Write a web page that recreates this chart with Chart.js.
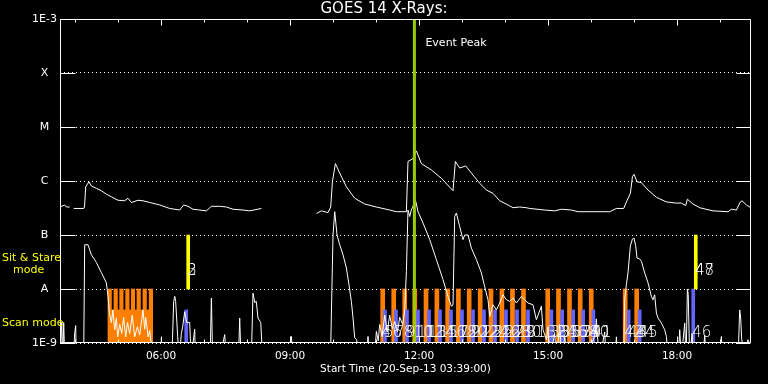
<!DOCTYPE html>
<html>
<head>
<meta charset="utf-8">
<script src="https://cdn.jsdelivr.net/npm/chart.js@4.4.1/dist/chart.umd.min.js"></script>
<style>
  html, body { margin: 0; padding: 0; background: #000; }
  #wrap { width: 768px; height: 384px; position: relative; }
</style>
</head>
<body>
<div id="wrap"><canvas id="c"></canvas></div>
<script>
// === GOES 14 X-Rays, 20-Sep-13 ===
// times in decimal hours UT, flux in W/m^2

const xMin = 3.65, xMax = 19.72;

// 1-8 A channel
const longT = [3.65, 3.759, 3.80, 3.876, 3.92, 3.969, 4.201, 4.22, 4.248, 4.324, 4.380, 4.496, 4.613, 4.729, 4.845,
  4.999, 5.155, 5.231, 5.310, 5.464, 5.580, 5.736, 5.969, 6.201, 6.434, 6.527, 6.627, 6.743, 6.899, 7.055,
  7.171, 7.364, 7.520, 7.673, 7.906, 8.062, 8.334, 8.9,
  9.613, 9.729, 9.883, 9.946, 9.985, 10.055, 10.155, 10.31, 10.503, 10.736, 11.008, 11.317, 11.473, 11.706,
  11.743, 11.859, 11.938, 12.055, 12.287, 12.52, 12.79, 12.845, 12.945, 13.085, 13.218, 13.411, 13.566, 13.72,
  13.876, 14.069, 14.185, 14.341, 14.497, 14.573, 14.922, 15.155, 15.31, 15.543, 15.697, 16.434, 16.59, 16.76,
  16.822, 16.915, 16.962, 16.999, 17.069, 17.171, 17.325, 17.52, 17.752, 17.985, 18.101, 18.201, 18.241, 18.371,
  18.527, 18.836, 19.185, 19.264, 19.38, 19.473, 19.511, 19.613, 19.72];
const longF = [3.3e-7, 3.6e-7, 3.3e-7, 3.3e-7, null, 3.1e-7, 3.1e-7, 3.3e-7, 7.8e-7, 9.7e-7, 8.1e-7, 7.3e-7, 6.6e-7, 5.7e-7, 5.1e-7,
  4.4e-7, 4.3e-7, 4.8e-7, 4.0e-7, 4.4e-7, 4.3e-7, 4.0e-7, 3.6e-7, 3.1e-7, 2.9e-7, 3.6e-7, 3.4e-7, 3.0e-7, 2.9e-7, 2.8e-7,
  3.4e-7, 3.4e-7, 3.3e-7, 3.0e-7, 2.9e-7, 2.8e-7, 3.1e-7, null,
  2.5e-7, 2.8e-7, 2.6e-7, 3.3e-7, 9.7e-7, 2.1e-6, 1.4e-6, 7.8e-7, 4.8e-7, 3.75e-7, 3.3e-7, 2.9e-7, 2.7e-7, 2.7e-7,
  2.3e-6, 2.6e-6, 3.6e-6, 2.1e-6, 1.6e-6, 1.12e-6, 6.6e-7, 2.3e-6, 1.74e-6, 1.9e-6, 1.4e-6, 9.1e-7, 6.8e-7, 5.9e-7,
  4.3e-7, 3.6e-7, 3.2e-7, 3.3e-7, 3.2e-7, 3.1e-7, 2.9e-7, 2.8e-7, 3.0e-7, 2.9e-7, 2.7e-7, 2.7e-7, 3.1e-7, 3.1e-7,
  4.1e-7, 5.9e-7, 1.2e-6, 1.33e-6, 9.7e-7, 9.3e-7, 6.8e-7, 5.0e-7, 4.1e-7, 3.9e-7, 3.9e-7, 3.5e-7, 4.6e-7, 3.75e-7,
  3.2e-7, 2.8e-7, 2.7e-7, 3.0e-7, 2.9e-7, 4.1e-7, 4.3e-7, 3.6e-7, 3.2e-7];

// 0.5-4 A channel (5e-10 = below the plot floor)
const shortT = [3.65, 3.69, 3.713, 3.736, 3.76, 3.96, 3.992, 4.015, 4.03, 4.2, 4.224, 4.301, 4.38, 4.496, 4.613,
  4.729, 4.766, 4.80, 4.845, 4.88, 4.922, 4.96, 4.992, 5.04, 5.085, 5.13, 5.178, 5.22, 5.271, 5.33, 5.387, 5.45,
  5.503, 5.58, 5.62, 5.643, 5.70, 5.736, 5.806, 5.99, 6.008, 6.03, 6.25, 6.294, 6.32, 6.34, 6.387, 6.42, 6.473,
  6.503, 6.55, 6.596, 6.666, 6.70, 6.782, 6.80, 7.14, 7.171, 7.201, 7.364, 7.48, 7.52, 7.80, 7.829, 7.86, 8.10,
  8.138, 8.178, 8.215, 8.255, 8.318, 8.364, 9.0, 9.031, 9.062, 9.94, 9.985, 10.0, 10.039, 10.093, 10.155, 10.232,
  10.31, 10.371, 10.426, 10.465, 10.503, 10.55, 10.6, 10.78, 10.813, 10.85, 10.96, 11.008, 11.05, 11.085, 11.14,
  11.201, 11.26, 11.317, 11.38, 11.434, 11.5, 11.55, 11.62, 11.666, 11.706, 11.743, 11.783, 11.82, 11.859, 11.915,
  11.976, 12.092, 12.248, 12.403, 12.557, 12.673, 12.752, 12.79, 12.829, 12.868, 12.945, 13.022, 13.062, 13.139,
  13.218, 13.334, 13.45, 13.527, 13.604, 13.643, 13.72, 13.799, 13.876, 13.953, 14.032, 14.108, 14.185, 14.264,
  14.38, 14.457, 14.534, 14.65, 14.729, 14.845, 14.883, 14.962, 15.0, 15.04, 15.155, 15.2, 15.271, 15.32, 15.39,
  15.45, 15.9, 16.1, 16.124, 16.15, 16.2, 16.317, 16.35, 16.55, 16.59, 16.62, 16.76, 16.782, 16.822, 16.859,
  16.915, 16.962, 16.999, 17.038, 17.069, 17.131, 17.171, 17.248, 17.325, 17.403, 17.44, 17.48, 17.52, 17.557,
  17.636, 17.713, 17.752, 17.8, 18.03, 18.062, 18.1, 18.178, 18.21, 18.241, 18.26, 18.294, 18.35, 18.38, 18.6,
  18.643, 18.68, 19.0, 19.031, 19.06, 19.42, 19.457, 19.48, 19.503, 19.573, 19.65, 19.72];
const shortF = [5e-10, 2.4e-9, 5e-10, 2.4e-9, 5e-10, 5e-10, 1.55e-9, 2.1e-9, 5e-10, 5e-10, 6.6e-8, 6.6e-8, 4.3e-8, 3.1e-8, 2.0e-8,
  1.3e-8, 7.3e-9, 3.5e-9, 2.4e-9, 4.1e-9, 1.76e-9, 2.9e-9, 1.3e-9, 2.2e-9, 1.5e-9, 3.0e-9, 1.3e-9, 2.4e-9, 1.5e-9, 3.3e-9, 1.3e-9, 2.0e-9,
  1.4e-9, 4.1e-9, 1.8e-9, 3.0e-9, 1.3e-9, 1.7e-9, 5e-10, 5e-10, 1.25e-9, 5e-10, 5e-10, 5.9e-9, 7.3e-9, 5.9e-9, 1.3e-9, 5e-10, 1.5e-9,
  2.0e-9, 3.8e-9, 2.4e-9, 2.4e-9, 5e-10, 1.8e-9, 5e-10, 5e-10, 6.8e-9, 5e-10, 5e-10, 1.43e-9, 5e-10, 5e-10, 2.9e-9, 5e-10, 5e-10,
  8.4e-9, 5.6e-9, 5.9e-9, 2.9e-9, 2.4e-9, 5e-10, 5e-10, 1.32e-9, 5e-10, 5e-10, 2.8e-8, 1.0e-7, 2.7e-7, 1.0e-7, 6.6e-8, 4.3e-8,
  2.45e-8, 1.2e-8, 5.9e-9, 2.9e-9, 1.25e-9, 1.15e-9, 5e-10, 5e-10, 1.32e-9, 5e-10, 5e-10, 1.64e-9, 1.1e-9, 2.2e-9, 1.3e-9,
  3.3e-9, 1.6e-9, 3.3e-9, 1.8e-9, 2.5e-9, 1.6e-9, 3.0e-9, 2.2e-9, 4.0e-9, 2.1e-8, 2.9e-7, 2.2e-7, 2.9e-7, 3.4e-7, 4.5e-7,
  2.7e-7, 1.67e-7, 8.2e-8, 3.5e-8, 1.5e-8, 7.3e-9, 4.8e-9, 5.1e-9, 2.2e-7, 2.55e-7, 1.44e-7, 8.2e-8, 1.0e-7, 1.0e-7,
  5.7e-8, 3.5e-8, 1.98e-8, 1.1e-8, 6.3e-9, 3.1e-9, 5.1e-9, 4.1e-9, 5.5e-9, 7.8e-9, 6.3e-9, 5.9e-9, 6.8e-9, 5.5e-9,
  7.3e-9, 6.3e-9, 5.5e-9, 5.1e-9, 2.7e-9, 4.8e-9, 1.76e-9, 1.15e-9, 2.0e-9, 5e-10, 1.5e-9, 5e-10, 2.2e-9, 5e-10, 1.3e-9,
  5e-10, 5e-10, 1.5e-9, 2.8e-9, 1.3e-9, 5e-10, 1.6e-9, 5e-10, 5e-10, 1.3e-9, 5e-10, 5e-10, 6.3e-9, 1.2e-8, 1.98e-8,
  6.3e-8, 8.4e-8, 8.8e-8, 6.3e-8, 3.75e-8, 3.6e-8, 3.25e-8, 1.98e-8, 1.3e-8, 7.3e-9, 6.3e-9, 7.8e-9, 3.6e-9, 2.9e-9,
  2.35e-9, 1.76e-9, 1.32e-9, 5e-10, 5e-10, 1.76e-9, 5e-10, 2.35e-9, 5e-10, 1.0e-8, 8.0e-9, 5e-10, 1.5e-9, 5e-10, 5e-10,
  1.4e-9, 5e-10, 5e-10, 1.32e-9, 5e-10, 5e-10, 4.1e-9, 2.9e-9, 1.2e-9, 5e-10, 1.15e-9, 5e-10];

// observing modes
const scanT = [11.155, 11.411, 11.667, 11.90, 12.162, 12.415, 12.666, 12.915, 13.166, 13.422, 13.673, 13.927, 14.173, 14.429,
  14.992, 15.243, 15.499, 15.748, 16.004, 16.794, 17.062];
const scanLeftT = [4.806, 4.945, 5.078, 5.217, 5.348, 5.48, 5.62, 5.764];
const scanLowT = [4.876, 5.011, 5.148, 5.283, 5.415, 5.55, 5.69];
const blueT = [6.585, 11.208, 11.464, 11.72, 11.976, 12.232, 12.487, 12.743, 12.999, 13.255, 13.511, 13.766, 14.022, 14.278, 14.534,
  15.078, 15.329, 15.585, 15.817, 16.055, 16.876, 17.131];
const blueTallT = [18.376];
const stareT = [6.631, 18.436];
const peakT = 11.892;

const levelA = 1e-8, levelB = 1e-7, levelLow = 4.1e-9, floorF = 1e-9;

// event numbers
const eventNums = [2, 3, 4, 5, 6, 7, 8, 9, 10, 11, 12, 13, 14, 15, 16, 17, 18, 19, 20, 21, 22, 23, 24, 25, 26, 27, 28, 29, 30, 31,
  32, 33, 34, 35, 36, 37, 38, 39, 40, 41, 42, 43, 44, 45, 46, 47, 48];
const eventT = [6.631, 6.631, 11.155, 11.208, 11.411, 11.464, 11.667, 11.72, 11.90, 11.976, 12.162, 12.232, 12.415, 12.487,
  12.666, 12.743, 12.915, 12.999, 13.166, 13.255, 13.422, 13.511, 13.673, 13.766, 13.927, 14.022, 14.173, 14.278, 14.429, 14.534,
  14.992, 15.078, 15.243, 15.329, 15.499, 15.585, 15.748, 15.817, 16.004, 16.055, 16.794, 16.876, 17.062, 17.131, 18.376,
  18.439, 18.439];
const eventF = [2.1e-8, 2.1e-8, 1.5e-9, 1.5e-9, 1.5e-9, 1.5e-9, 1.5e-9, 1.5e-9, 1.5e-9, 1.5e-9, 1.5e-9, 1.5e-9, 1.5e-9, 1.5e-9,
  1.5e-9, 1.5e-9, 1.5e-9, 1.5e-9, 1.5e-9, 1.5e-9, 1.5e-9, 1.5e-9, 1.5e-9, 1.5e-9, 1.5e-9, 1.5e-9, 1.5e-9, 1.5e-9, 1.5e-9, 1.5e-9,
  1.5e-9, 1.5e-9, 1.5e-9, 1.5e-9, 1.5e-9, 1.5e-9, 1.5e-9, 1.5e-9, 1.5e-9, 1.5e-9, 1.5e-9, 1.5e-9, 1.5e-9, 1.5e-9, 1.5e-9,
  2.1e-8, 2.1e-8];

// axes
const yTickVals = [1e-9, 1e-8, 1e-7, 1e-6, 1e-5, 1e-4, 1e-3];
const yTickLabels = ["1E-9", "A", "B", "C", "M", "X", "1E-3"];
const xTickVals = [6, 9, 12, 15, 18];
const xTickLabels = ["06:00", "09:00", "12:00", "15:00", "18:00"];
const xMinorVals = [4, 5, 7, 8, 10, 11, 13, 14, 16, 17, 19];

const ORANGE = "#ff8000", BLUE = "#6464ff", YELLOW = "#ffff00", LIME = "#9c0";
const FONT = "'DejaVu Sans', sans-serif";

const pts = (ts, fs) => ts.map((t, i) => ({ x: t, y: fs[i] }));
const bars = (ts, lo, hi) => ts.map(t => ({ x: t, y: [lo, hi] }));

// frame, inward ticks and text annotations
const decor = {
  id: "decor",
  afterDatasetsDraw(chart) {
    const { ctx, chartArea: a, scales: { x, y } } = chart;
    const L = Math.round(a.left) + 0.5, R = Math.round(a.right) - 0.5;
    const T = Math.round(a.top) + 0.5, B = Math.round(a.bottom) - 0.5;
    ctx.save();
    ctx.strokeStyle = "#fff";
    ctx.lineWidth = 1;
    ctx.beginPath();
    ctx.rect(L, T, R - L, B - T);
    yTickVals.forEach(v => {
      const py = Math.round(y.getPixelForValue(v)) + 0.5;
      ctx.moveTo(L, py); ctx.lineTo(L + 15, py);
      ctx.moveTo(R - 14, py); ctx.lineTo(R, py);
    });
    const xt = (vals, len) => vals.forEach(v => {
      const px = Math.round(x.getPixelForValue(v)) + 0.5;
      ctx.moveTo(px, T); ctx.lineTo(px, T + len);
      ctx.moveTo(px, B); ctx.lineTo(px, B - len);
    });
    xt(xTickVals, 6);
    xt(xMinorVals, 3);
    ctx.stroke();

    // event numbers
    ctx.fillStyle = "#fff";
    ctx.font = "200 15px " + FONT;
    ctx.textAlign = "left";
    ctx.textBaseline = "middle";
    eventNums.forEach((n, i) => {
      ctx.fillText(String(n), x.getPixelForValue(eventT[i]) - 1, y.getPixelForValue(eventF[i]));
    });

    ctx.font = "11px " + FONT;
    ctx.fillText("Event Peak", x.getPixelForValue(peakT) + 11, a.top + 24);
    ctx.restore();
  },
  afterDraw(chart) {
    const { ctx, scales: { y } } = chart;
    ctx.save();
    ctx.fillStyle = YELLOW;
    ctx.font = "11px " + FONT;
    ctx.textAlign = "left";
    ctx.textBaseline = "middle";
    const mid = (y.getPixelForValue(levelA) + y.getPixelForValue(levelB)) / 2;
    ctx.fillText("Sit & Stare", 2, mid - 4);
    ctx.fillText("mode", 13, mid + 8);
    ctx.fillText("Scan mode", 2, (y.getPixelForValue(levelA) + y.getPixelForValue(floorF)) / 2 + 7);
    ctx.restore();
  }
};

new Chart(document.getElementById("c"), {
  type: "line",
  data: {
    datasets: [
      { type: "line", data: [{ x: peakT, y: 1e-3 }, { x: peakT, y: floorF }], borderColor: LIME, borderWidth: 3, pointRadius: 0, order: 0 },
      { type: "line", data: pts(longT, longF), borderColor: "#fff", borderWidth: 1, pointRadius: 0, spanGaps: false, order: 1 },
      { type: "line", data: pts(shortT, shortF), borderColor: "#fff", borderWidth: 1, pointRadius: 0, order: 1 },
      { type: "bar", data: bars(stareT, levelA, levelB), backgroundColor: YELLOW, barThickness: 3, grouped: false, order: 2 },
      { type: "bar", data: bars(blueT, floorF, levelLow), backgroundColor: BLUE, barThickness: 3, grouped: false, order: 2 },
      { type: "bar", data: bars(blueTallT, floorF, levelA), backgroundColor: BLUE, barThickness: 3, grouped: false, order: 2 },
      { type: "bar", data: bars(scanT, floorF, levelA), backgroundColor: ORANGE, barThickness: 4, grouped: false, order: 3 },
      { type: "bar", data: bars(scanLeftT, floorF, levelA), backgroundColor: ORANGE, barThickness: 3.5, grouped: false, order: 3 },
      { type: "bar", data: bars(scanLowT, floorF, levelLow), backgroundColor: ORANGE, barThickness: 2.6, grouped: false, order: 3 },
    ]
  },
  options: {
    responsive: true,
    maintainAspectRatio: false,
    animation: false,
    devicePixelRatio: 1,
    layout: { padding: 0 },
    plugins: {
      legend: { display: false },
      tooltip: { enabled: false },
      title: {
        display: true,
        text: "GOES 14 X-Rays:",
        color: "#fff",
        font: { family: FONT, size: 15, weight: "normal" },
        padding: { top: 0, bottom: 1 },
      },
    },
    scales: {
      x: {
        type: "linear",
        min: xMin,
        max: xMax,
        offset: false,
        grid: { display: false, drawTicks: false },
        border: { display: false },
        afterBuildTicks: s => { s.ticks = xTickVals.map(v => ({ value: v })); },
        afterFit: s => { s.height = 41; },
        ticks: {
          autoSkip: false,
          maxRotation: 0,
          color: "#fff",
          padding: 7,
          font: { family: FONT, size: 10.5 },
          callback: v => xTickLabels[xTickVals.indexOf(v)] ?? "",
        },
        title: {
          display: true,
          text: "Start Time (20-Sep-13 03:39:00)",
          color: "#fff",
          font: { family: FONT, size: 10.5 },
          padding: { top: 0, bottom: 8 },
        },
      },
      y: {
        type: "logarithmic",
        min: 1e-9,
        max: 1e-3,
        grid: { color: "#fff", drawTicks: false },
        border: { display: false, dash: [1, 3] },
        afterBuildTicks: s => { s.ticks = yTickVals.map(v => ({ value: v })); },
        afterFit: s => { s.width = 60; },
        ticks: {
          autoSkip: false,
          color: "#fff",
          padding: 3,
          crossAlign: "center",
          font: { family: FONT, size: 11 },
          callback: v => yTickLabels[yTickVals.indexOf(v)] ?? "",
        },
      },
      // empty right margin so the title centres on the page
      yRight: {
        type: "linear",
        position: "right",
        min: 0,
        max: 1,
        grid: { display: false, drawTicks: false },
        border: { display: false },
        ticks: { display: false },
        afterFit: s => { s.width = 17; },
      },
    },
  },
  plugins: [decor],
});
</script>
</body>
</html>
